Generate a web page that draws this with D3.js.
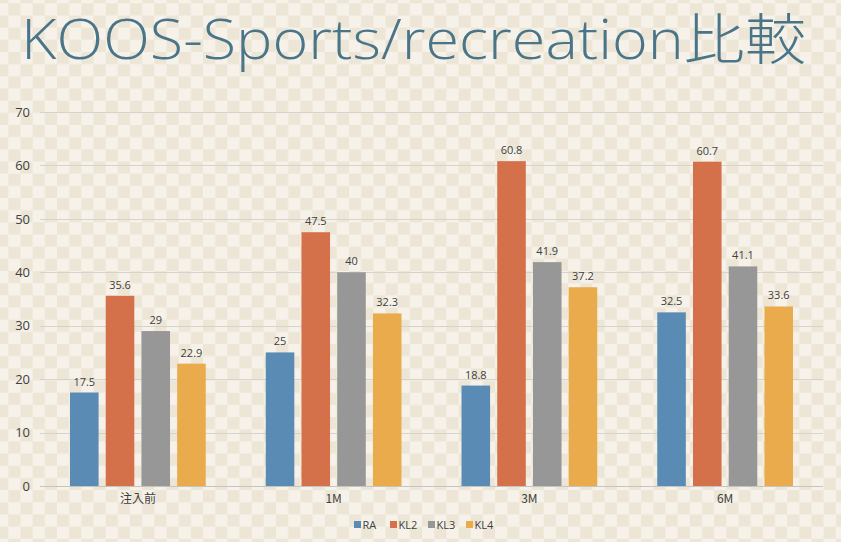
<!DOCTYPE html>
<html><head><meta charset="utf-8">
<script src="https://cdn.jsdelivr.net/npm/d3@7"></script>
<style>html,body{margin:0;padding:0;background:#f5f1e8;}svg{display:block;}</style>
</head><body>
<svg id="c" width="841" height="542"></svg>
<script>
const categories = ["注入前", "1M", "3M", "6M"];
const seriesNames = ["RA", "KL2", "KL3", "KL4"];
const RA  = [17.5, 25, 18.8, 32.5];
const KL2 = [35.6, 47.5, 60.8, 60.7];
const KL3 = [29, 40, 41.9, 41.1];
const KL4 = [22.9, 32.3, 37.2, 33.6];
const yTicks = [0, 10, 20, 30, 40, 50, 60, 70];
const colors = ["#5a8bb5", "#d5714a", "#979797", "#eaab4c"];
const titleText = "KOOS-Sports/recreation比較";

const seriesValues = [RA, KL2, KL3, KL4];
const svg = d3.select("#c");
const W = 841, H = 542;

// checkered background
const defs = svg.append("defs");
const cell = 12.17;
const pat = defs.append("pattern").attr("id", "chk").attr("patternUnits", "userSpaceOnUse")
  .attr("width", cell * 2).attr("height", cell * 2)
  .attr("x", 8.3).attr("y", 3.3);
pat.append("rect").attr("width", cell * 2).attr("height", cell * 2).attr("fill", "#f6f2ea");
pat.append("rect").attr("x", 0).attr("y", 0).attr("width", cell).attr("height", cell).attr("fill", "#ede6d6");
pat.append("rect").attr("x", cell).attr("y", cell).attr("width", cell).attr("height", cell).attr("fill", "#ede6d6");
svg.append("rect").attr("width", W).attr("height", H).attr("fill", "url(#chk)");

// title
svg.append("text").attr("x", 21).attr("y", 59)
  .attr("font-family", "'Open Sans', 'Noto Sans CJK JP', sans-serif")
  .attr("font-size", 55).attr("font-weight", 300)
  .attr("fill", "#4a7589")
  .attr("textLength", 785).attr("lengthAdjust", "spacingAndGlyphs")
  .text(titleText);

const pLeft = 40, pRight = 823, pTop = 112, pBottom = 486;
const y = d3.scaleLinear().domain([0, 70]).range([pBottom, pTop]);
const x0 = d3.scaleBand().domain(categories).range([pLeft, pRight]).paddingInner(0.27).paddingOuter(0.135);
const x1 = d3.scaleBand().domain(seriesNames).range([0, x0.bandwidth()]).paddingInner(0.2).paddingOuter(0.1);

// gridlines
const grid = svg.append("g");
grid.selectAll("line").data(yTicks.filter(d => d > 0)).join("line")
  .attr("x1", pLeft).attr("x2", pRight)
  .attr("y1", d => Math.round(y(d)) + 0.5).attr("y2", d => Math.round(y(d)) + 0.5)
  .attr("stroke", "#d6d3cd").attr("stroke-width", 1);

// y axis labels
const yAxis = d3.axisLeft(y).tickValues(yTicks).tickSize(0).tickPadding(10);
const ya = svg.append("g").attr("transform", `translate(${pLeft},0)`).call(yAxis);
ya.select(".domain").remove();
ya.selectAll("text").attr("font-family", "'Open Sans', 'Noto Sans', sans-serif")
  .attr("font-size", 13).attr("fill", "#404040");

// bars
const groups = svg.append("g").selectAll("g").data(categories).join("g")
  .attr("transform", c => `translate(${x0(c)},0)`);
groups.each(function(c, ci) {
  const g = d3.select(this);
  const data = seriesNames.map((s, si) => ({ s, si, v: seriesValues[si][ci] }));
  g.selectAll("rect").data(data).join("rect")
    .attr("x", d => x1(d.s)).attr("width", x1.bandwidth())
    .attr("y", d => y(d.v)).attr("height", d => y(0) - y(d.v))
    .attr("fill", d => colors[d.si]);
  g.selectAll("text").data(data).join("text")
    .attr("x", d => x1(d.s) + x1.bandwidth() / 2).attr("y", d => y(d.v) - 7)
    .attr("text-anchor", "middle")
    .attr("font-family", "'Open Sans', 'Noto Sans', sans-serif")
    .attr("font-size", 11).attr("fill", "#404040")
    .text(d => d.v);
});

// x axis
svg.append("line").attr("x1", pLeft).attr("x2", pRight)
  .attr("y1", Math.round(y(0)) + 0.5).attr("y2", Math.round(y(0)) + 0.5)
  .attr("stroke", "#c4c4c4").attr("stroke-width", 1);
const xAxis = d3.axisBottom(x0).tickSize(0).tickPadding(8);
const xa = svg.append("g").attr("transform", `translate(0,${pBottom})`).call(xAxis);
xa.select(".domain").remove();
xa.selectAll("text").attr("font-family", "'Noto Sans CJK JP', 'Open Sans', sans-serif")
  .attr("font-size", 12).attr("fill", "#404040");

// legend
const legX = [354, 390, 428, 466];
const leg = svg.append("g");
seriesNames.forEach((s, i) => {
  leg.append("rect").attr("x", legX[i]).attr("y", 521).attr("width", 7).attr("height", 7).attr("fill", colors[i]);
  leg.append("text").attr("x", legX[i] + 8.5).attr("y", 528.5)
    .attr("font-family", "'Open Sans', 'Noto Sans', sans-serif")
    .attr("font-size", 11).attr("fill", "#404040").text(s);
});
</script>
</body></html>
